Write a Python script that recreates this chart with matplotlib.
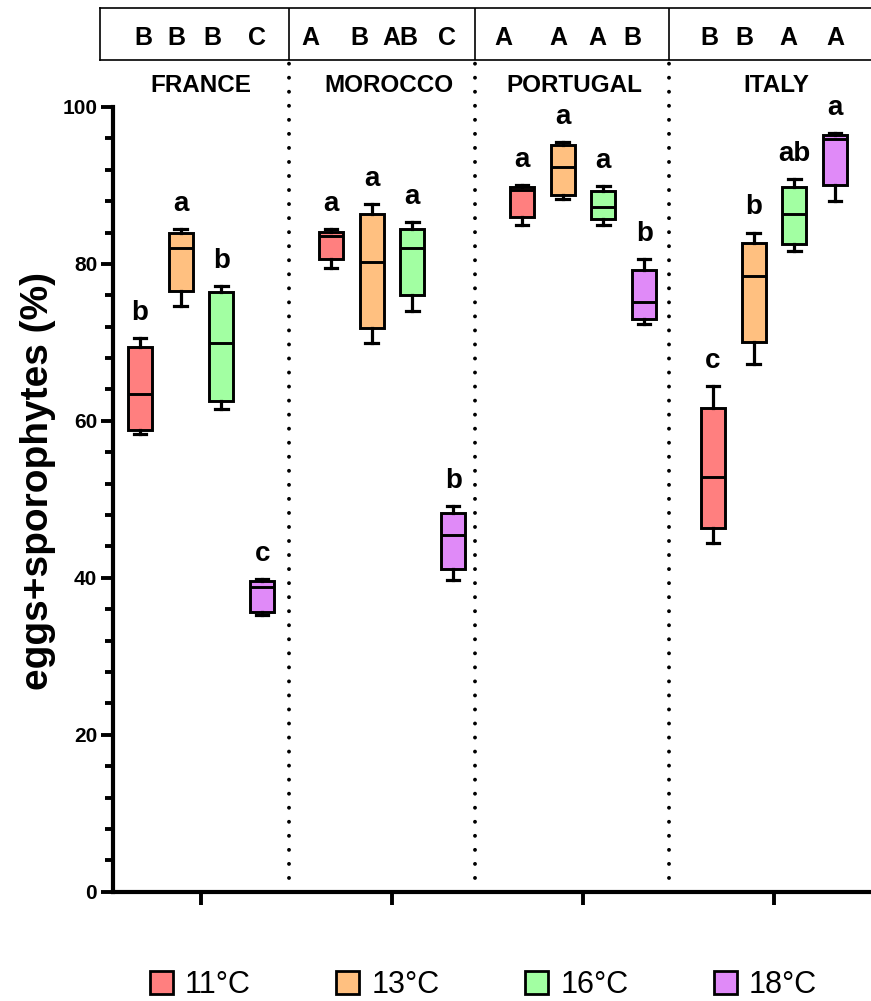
import matplotlib
matplotlib.use("Agg")
import matplotlib.pyplot as plt
from matplotlib.patches import Patch
from matplotlib.ticker import MultipleLocator

plt.rcParams['font.family'] = ['Liberation Sans', 'DejaVu Sans']

# ---- data -------------------------------------------------------------
sites = ['FRANCE', 'MOROCCO', 'PORTUGAL', 'ITALY']
temps = ['11°C', '13°C', '16°C', '18°C']
colors = ['#FF7F7F', '#FFC080', '#A2FFA2', '#E08AF8']

# five-number summaries per site: one row per temperature
# (whisker low, Q1, median, Q3, whisker high)
france = [[58.3, 58.9, 63.4, 69.4, 70.6],
          [74.7, 76.5, 82.0, 83.9, 84.5],
          [61.5, 62.5, 69.9, 76.4, 77.2],
          [35.2, 35.7, 38.8, 39.6, 39.9]]
morocco = [[79.5, 80.6, 83.6, 84.1, 84.4],
           [69.9, 71.8, 80.2, 86.4, 87.6],
           [74.0, 76.0, 82.0, 84.5, 85.3],
           [39.7, 41.1, 45.5, 48.3, 49.2]]
portugal = [[84.9, 86.0, 89.4, 89.8, 90.1],
            [88.3, 88.8, 92.3, 95.2, 95.5],
            [85.0, 85.7, 87.3, 89.3, 89.9],
            [72.4, 73.0, 75.1, 79.2, 80.6]]
italy = [[44.4, 46.3, 52.9, 61.7, 64.5],
         [67.3, 70.1, 78.4, 82.7, 84.0],
         [81.6, 82.5, 86.4, 89.8, 90.8],
         [88.0, 90.0, 95.9, 96.4, 96.7]]

# within-site significance letters (lowercase) and between-site letters (uppercase)
lower_letters = [['b', 'a', 'b', 'c'],
                 ['a', 'a', 'a', 'b'],
                 ['a', 'a', 'a', 'b'],
                 ['c', 'b', 'ab', 'a']]
upper_letters = [['B', 'B', 'B', 'C'],
                 ['A', 'B', 'AB', 'C'],
                 ['A', 'A', 'A', 'B'],
                 ['B', 'B', 'A', 'A']]

site_data = [france, morocco, portugal, italy]

# ---- layout -----------------------------------------------------------
W, H = 871, 1001
fig = plt.figure(figsize=(W / 100, H / 100), dpi=100)

px_per_unit = 191.0          # horizontal pixels per site slot
x0_px = 201.0                # pixel of first site centre
ax_left_px, ax_right_px = 112.5, 880.0
y0_px, y100_px = 891.7, 107.0

ax = fig.add_axes([ax_left_px / W, (H - y0_px) / H,
                   (ax_right_px - ax_left_px) / W, (y0_px - y100_px) / H])
ax.set_xlim((ax_left_px - x0_px) / px_per_unit, (ax_right_px - x0_px) / px_per_unit)
ax.set_ylim(0, 100)

box_step = 0.2136
box_w = 0.125
separators = [0.461, 1.435, 2.45]

for g, rows in enumerate(site_data):
    stats = []
    pos = []
    for i, r in enumerate(rows):
        stats.append(dict(whislo=r[0], q1=r[1], med=r[2], q3=r[3], whishi=r[4],
                          fliers=[], label=temps[i]))
        pos.append(g + (i - 1.5) * box_step)
    bp = ax.bxp(stats, positions=pos, widths=box_w, patch_artist=True,
                showfliers=False, manage_ticks=False, capwidths=box_w * 0.52,
                boxprops=dict(edgecolor='black', linewidth=2.1),
                medianprops=dict(color='black', linewidth=2.1, solid_capstyle='butt'),
                whiskerprops=dict(color='black', linewidth=2.3),
                capprops=dict(color='black', linewidth=2.3))
    for patch, c in zip(bp['boxes'], colors):
        patch.set_facecolor(c)
    for i, r in enumerate(rows):
        ax.annotate(lower_letters[g][i], xy=(pos[i], r[4]), xytext=(0, 13),
                    textcoords='offset points', ha='center', va='baseline',
                    fontsize=20, fontweight='bold')

# dotted separators between sites, running up to the header box
y_top_sep = (y0_px - 62) / ((y0_px - y100_px) / 100)
for s in separators:
    ax.plot([s, s], [0, y_top_sep], color='black', linewidth=2.8,
            linestyle=(0, (0.01, 3.6)), dash_capstyle='round', clip_on=False)

# axes styling
for side in ('top', 'right'):
    ax.spines[side].set_visible(False)
for side in ('left', 'bottom'):
    ax.spines[side].set_linewidth(3.0)
    ax.spines[side].set_capstyle('projecting')

ax.set_xticks(range(len(sites)))
ax.set_xticklabels([])
ax.tick_params(axis='x', length=9, width=2.8, direction='out')
ax.yaxis.set_major_locator(MultipleLocator(20))
ax.yaxis.set_minor_locator(MultipleLocator(4))
ax.tick_params(axis='y', which='major', length=9, width=2.8, labelsize=15, pad=2)
ax.tick_params(axis='y', which='minor', length=5.5, width=2.8)
for lab in ax.get_yticklabels():
    lab.set_fontweight('bold')

fig.text(38 / W, 1 - 481 / H, 'eggs+sporophytes (%)', rotation=90,
         ha='center', va='center', fontsize=28, fontweight='bold')

# site names
site_label_px = [201, 389, 574, 776]
for name, xp in zip(sites, site_label_px):
    fig.text(xp / W, 1 - 86 / H, name, ha='center', va='center',
             fontsize=17.5, fontweight='bold')

# header band with between-site letters
hdr_left_px, hdr_top_px, hdr_bot_px = 100.0, 8.0, 60.0
hax = fig.add_axes([hdr_left_px / W, 1 - hdr_bot_px / H,
                    (ax_right_px - hdr_left_px) / W, (hdr_bot_px - hdr_top_px) / H])
hax.set_xlim((hdr_left_px - x0_px) / px_per_unit, (ax_right_px - x0_px) / px_per_unit)
hax.set_ylim(0, 1)
hax.set_xticks([])
hax.set_yticks([])
for side in ('top', 'bottom', 'left'):
    hax.spines[side].set_linewidth(1.2)
hax.spines['right'].set_visible(False)
for s in separators:
    hax.axvline(s, color='black', linewidth=1.2)

letter_offsets = [[-0.304, -0.131, 0.058, 0.293],
                  [-0.429, -0.173, 0.042, 0.288],
                  [-0.419, -0.131, 0.073, 0.257],
                  [-0.340, -0.157, 0.073, 0.319]]
for g in range(len(sites)):
    for i, t in enumerate(upper_letters[g]):
        hax.text(g + letter_offsets[g][i], 0.42, t, ha='center', va='center',
                 fontsize=18, fontweight='bold')

# legend
handles = [Patch(facecolor=c, edgecolor='black', linewidth=2) for c in colors]
fig.legend(handles, temps, loc='center', bbox_to_anchor=(0.555, 1 - 985 / H),
           ncol=4, frameon=False, fontsize=22, handlelength=0.75, handleheight=0.75,
           handletextpad=0.4, columnspacing=2.8, borderpad=0.0)

fig.savefig('out.png', dpi=100)
